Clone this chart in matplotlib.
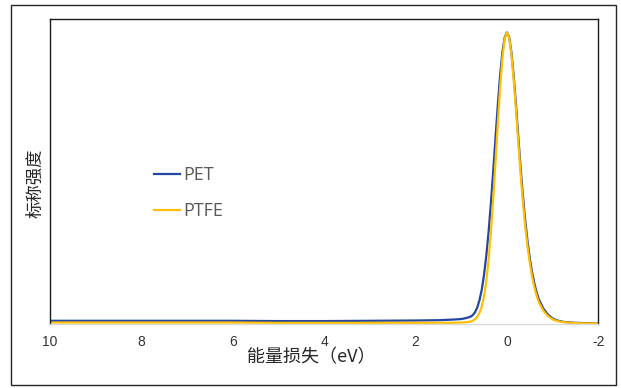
import matplotlib
matplotlib.use("Agg")
import matplotlib.pyplot as plt
from matplotlib.patches import Rectangle

plt.rcParams['font.family'] = ['Open Sans', 'Noto Sans CJK SC', 'DejaVu Sans']

# Energy loss (eV) and normalized intensity for each sample
pet_energy = [10, 9, 8, 7, 6, 5, 4, 3, 2, 1.5, 1.2, 1.0, 0.9, 0.8, 0.75, 0.7, 0.65, 0.6,
              0.55, 0.5, 0.45, 0.4, 0.35, 0.3, 0.25, 0.2, 0.15, 0.1, 0.05, 0.0,
              -0.05, -0.1, -0.15, -0.2, -0.25, -0.3, -0.35, -0.4, -0.45, -0.5, -0.55,
              -0.6, -0.65, -0.7, -0.8, -0.9, -1.0, -1.1, -1.25, -1.5, -1.75, -2.0]
pet_intensity = [0.011, 0.011, 0.011, 0.011, 0.011, 0.010, 0.010, 0.011, 0.012, 0.013,
                 0.015, 0.017, 0.020, 0.025, 0.030, 0.040, 0.056, 0.082, 0.118, 0.170,
                 0.236, 0.318, 0.416, 0.524, 0.638, 0.750, 0.851, 0.931, 0.982, 1.000,
                 0.984, 0.930, 0.848, 0.748, 0.640, 0.535, 0.440, 0.357, 0.285, 0.226,
                 0.178, 0.140, 0.108, 0.084, 0.052, 0.032, 0.019, 0.012, 0.007, 0.004,
                 0.003, 0.002]

ptfe_energy = pet_energy
ptfe_intensity = [0.005, 0.005, 0.005, 0.005, 0.005, 0.004, 0.004, 0.004, 0.004, 0.004,
                  0.004, 0.005, 0.006, 0.008, 0.011, 0.016, 0.024, 0.038, 0.060, 0.096,
                  0.148, 0.222, 0.316, 0.428, 0.555, 0.686, 0.808, 0.910, 0.977, 1.000,
                  0.982, 0.922, 0.834, 0.730, 0.620, 0.513, 0.418, 0.336, 0.267, 0.210,
                  0.163, 0.126, 0.097, 0.074, 0.045, 0.027, 0.016, 0.010, 0.006, 0.003,
                  0.002, 0.002]

x_ticks = [10, 8, 6, 4, 2, 0, -2]
x_tick_labels = ["10", "8", "6", "4", "2", "0", "-2"]

W, H = 621, 388
fig = plt.figure(figsize=(W / 100, H / 100), dpi=100)
fig.patch.set_facecolor("white")

# outer chart border
fig.patches.append(Rectangle((10.5 / W, 3 / H), 605.5 / W, 380 / H,
                             transform=fig.transFigure, fill=False,
                             edgecolor="#262626", linewidth=1.0))

ax = fig.add_axes([50 / W, (H - 324) / H, 548.3 / W, 304.7 / H])

ax.plot(pet_energy, pet_intensity, color="#2446A0", linewidth=1.6, label="PET",
        solid_joinstyle="round")
ax.plot(ptfe_energy, ptfe_intensity, color="#FFC000", linewidth=1.6, label="PTFE",
        solid_joinstyle="round")

ax.set_xlim(10, -2)
ax.set_ylim(0, 1.045)
ax.set_xticks(x_ticks)
ax.set_xticklabels(x_tick_labels, fontfamily=["Liberation Sans", "DejaVu Sans"],
                   fontsize=10, color="#333333")
ax.set_yticks([])
ax.tick_params(axis="x", length=0, pad=8)

for side in ("left", "top", "right"):
    ax.spines[side].set_color("#1a1a1a")
    ax.spines[side].set_linewidth(1.0)
ax.spines["bottom"].set_color("#D9D9D9")
ax.spines["bottom"].set_linewidth(1.0)

fig.text(311 / W, 1 - 357 / H, "能量损失（eV）", ha="center", va="center",
         fontsize=13, color="#262626", family=["Noto Sans CJK SC", "DejaVu Sans"])
fig.text(35 / W, 1 - 183 / H, "标称强度", ha="center", va="center", rotation=90,
         fontsize=12.5, color="#262626", family=["Noto Sans CJK SC", "DejaVu Sans"])

leg = ax.legend(loc="upper left", bbox_to_anchor=(154 / W, 1 - 166 / H),
                bbox_transform=fig.transFigure, frameon=False, fontsize=13,
                handlelength=1.45, handletextpad=0.15, labelspacing=1.0,
                borderpad=0, borderaxespad=0)
for t in leg.get_texts():
    t.set_color("#595959")

fig.savefig("out.png", dpi=100)
